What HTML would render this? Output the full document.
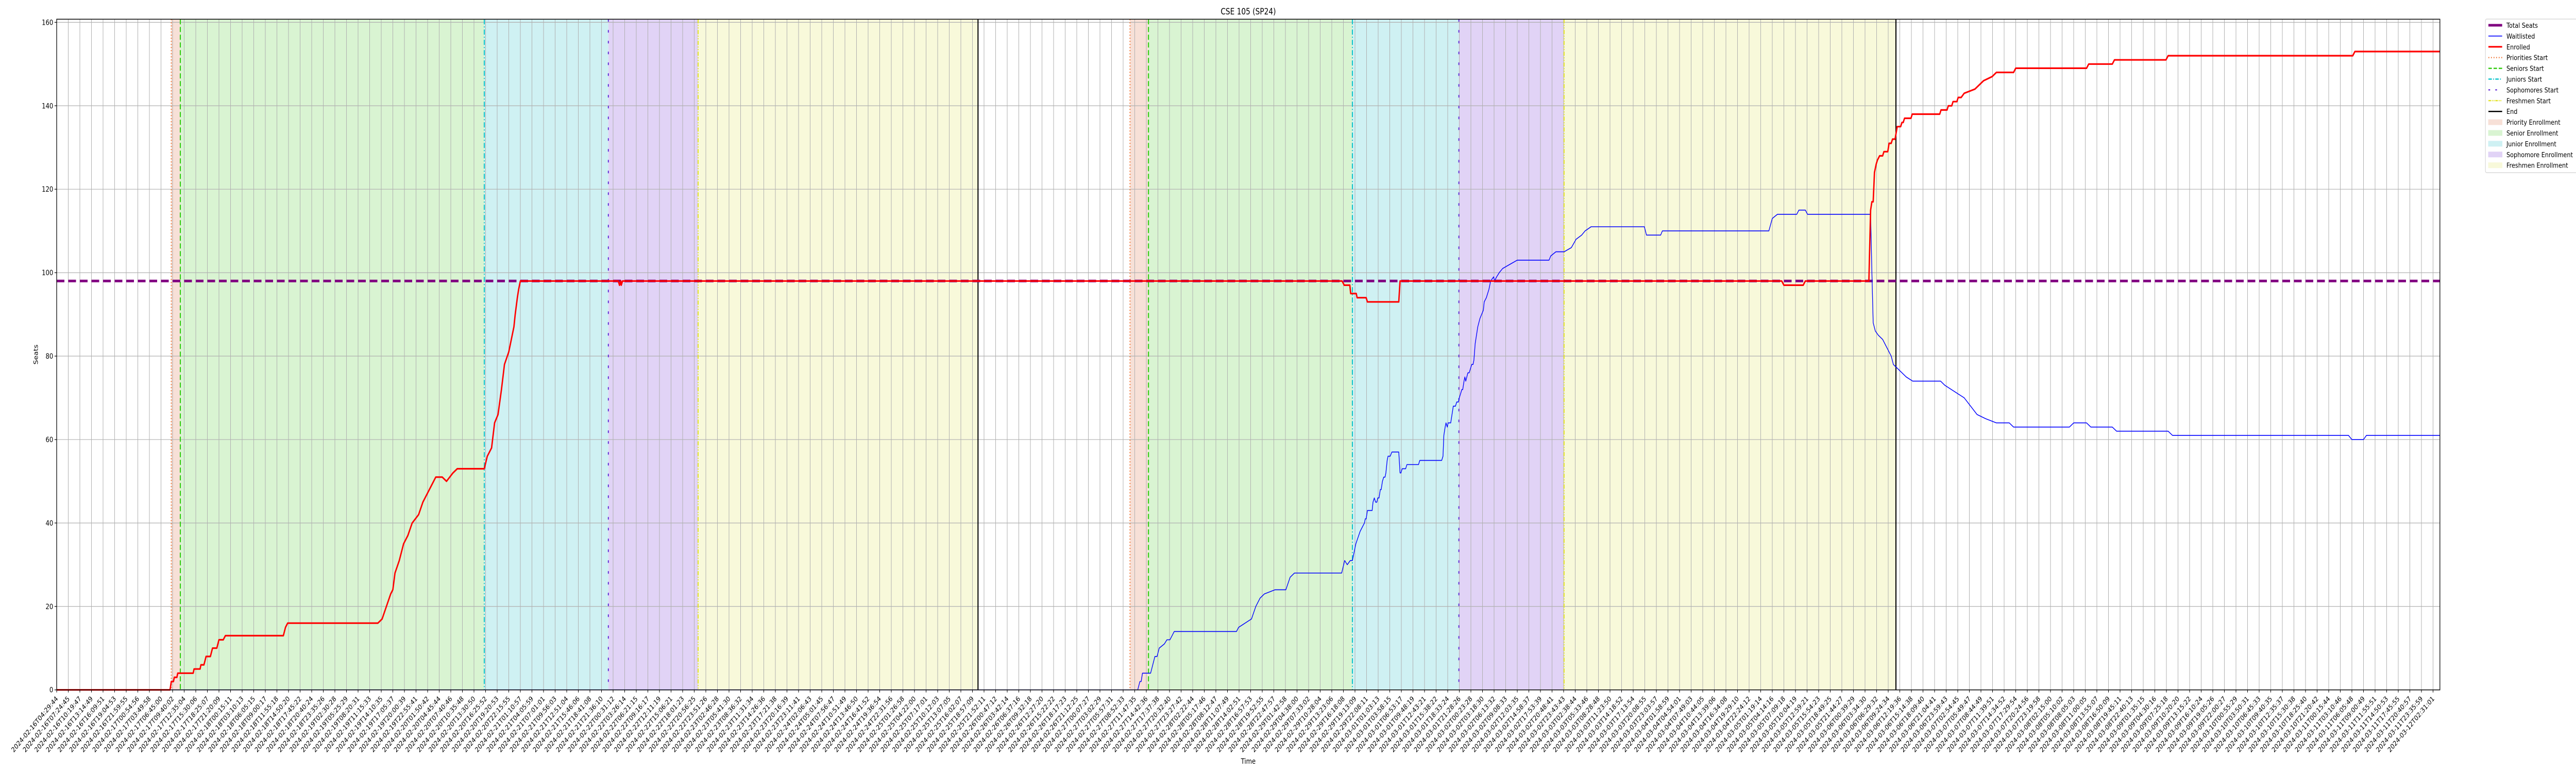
<!DOCTYPE html>
<html><head><meta charset="utf-8"><title>CSE 105 (SP24)</title>
<style>
html,body{margin:0;padding:0;background:#fff;width:100%;height:100%;overflow:hidden;}
svg{display:block;width:100vw;height:100vh;font-family:"DejaVu Sans","Liberation Sans",sans-serif;}
</style></head>
<body>
<svg id="chart" viewBox="0 0 6000 1500" preserveAspectRatio="none" xmlns="http://www.w3.org/2000/svg">
<rect width="6000" height="1500" fill="#fff"/>
<g id="bands"></g>
<g id="grid"></g>
<g id="vlines"></g>
<g id="series"></g>
<g id="axes"></g>
<g id="legend"></g>
</svg>
<script>
// ---- data ----
const totalSeats = 98;
const enrolledX = [0,52.8,53.4,54.4,54.8,56,56.4,63.6,64,66.8,67.2,68.6,69.6,71.6,72.6,74.6,75.6,77.6,78.6,105.6,106.6,107.6,149.6,151.6,153.6,155.6,156.6,157.6,159.6,161.6,163.6,165.6,168.6,170.6,172.6,174.6,176.6,179.6,181.6,184.6,186.6,199.2,200.6,202.6,204,205.6,207.2,208.6,210.6,212.2,213,213.6,214.6,215.2,216,261.6,262.2,262.8,263,263.6,598.8,599.8,602.4,602.8,605.4,605.8,610,610.6,625.2,625.8,803.6,804.6,813.6,814.6,844.2,845,845.6,846.2,846.8,847.6,848.2,849.2,850.6,851.2,853,853.6,854.6,855.2,856.4,857.4,859,859.6,860.2,860.8,863.8,864.4,877.2,877.8,880.6,881.2,882.8,883.4,885.2,885.8,887.2,888.6,893.6,897.6,901.6,903.6,911.6,912.6,945.6,946.6,957.6,958.6,982.6,983.6,1069.6,1070.6,1110.2];
const enrolledY = [0,0,2,2,3,3,4,4,5,5,6,6,8,8,10,10,12,12,13,13,15,16,16,17,20,23,24,28,31,35,37,40,42,45,47,49,51,51,50,52,53,53,56,58,64,66,72,78,81,85,87,90,94,96,98,98,97,98,97,98,98,97,97,95,95,94,94,93,93,98,98,97,97,98,98,115,117,117,124,126,127,128,128,129,129,131,131,132,132,135,135,136,136,137,137,138,138,139,139,140,140,141,141,142,142,143,144,146,147,148,148,149,149,150,150,151,151,152,152,153,153];
const waitX = [0,503.6,504.6,505.2,505.8,509.6,510.6,511.6,512.6,513.6,516,517.2,518.6,519.6,520.6,549.6,550.6,553.6,556.6,558.6,560.6,562.6,567.6,572.6,574.6,576.6,598.6,600,601.2,602.6,603.6,605.2,607.2,609.2,609.6,610,610.6,612.8,613.2,613.8,614.4,615,615.4,616,616.6,617,617.6,618.2,618.8,619.2,619.8,620.2,621.2,622,625.2,625.8,626.2,626.8,628.4,629,634.4,635,645.2,645.8,646.2,646.8,647.2,647.8,648.2,649.4,650.6,651.6,652.2,653,653.4,654.6,655,655.6,656,656.4,657.4,658,659.2,659.8,660.2,660.8,662,663,664.6,665,666,667.2,668,669.4,669.8,670.8,672,673.6,677,680.4,695.2,696,698.4,702.2,705.6,707.8,710.4,712,714.8,739.6,740.6,747.2,748,797.6,799.2,801.6,810.6,811.6,814.6,815.6,845,845.6,846.2,847.2,848.6,850.6,852.6,854.6,855.6,857.6,859.6,861.6,864.6,877.6,879.6,882.6,885.6,888.6,891.6,894.6,898.6,903.6,909.6,911.6,937.6,939.6,945.6,947.6,957.6,959.6,983.6,985.6,1067.6,1069.2,1074.6,1076,1110.2];
const waitY = [0,0,2,2,4,4,6,8,8,10,11,12,12,13,14,14,15,16,17,20,22,23,24,24,27,28,28,31,30,31,31,35,38,40,41,41,43,43,45,46,45,45,46,46,48,48,50,51,51,52,55,56,56,57,57,52,52,53,53,54,54,55,55,56,61,63,64,63,64,64,68,68,69,69,70,72,72,74,75,74,76,76,78,78,79,83,87,89,91,93,94,96,98,99,98,99,100,101,102,103,103,104,105,105,106,108,109,110,111,111,109,109,110,110,113,114,114,115,115,114,114,100,88,86,85,84,82,80,78,77,76,75,74,74,73,72,71,70,68,66,65,64,64,63,63,64,64,63,63,62,62,61,61,60,60,61,61];
const phaseStarts = [[53.4,57.6,199.2,257,298.8,429.2],[500,508.6,603.6,653.2,702.2,856.8]];
const yTicks = [0,20,40,60,80,100,120,140,160];
const tickStep = 5.4, tickCount = 206;
const firstTickTime = "2024-02-16T04:29:44", lastTickTime = "2024-03-12T02:31:01";

// ---- scales ----
const L=132, R=5683, T=37.3, B=1338.7;
const xMax=1110.2, yMax=(B-T)/8.096;
function xs(v){return L+(v/xMax)*(R-L);}
function ys(v){return B-(v/yMax)*(B-T);}
const NS="http://www.w3.org/2000/svg";
function mk(tag,attrs,parent){const e=document.createElementNS(NS,tag);for(const k in attrs)e.setAttribute(k,attrs[k]);parent.appendChild(e);return e;}

const bands=document.getElementById('bands'), grid=document.getElementById('grid'),
 vlines=document.getElementById('vlines'), series=document.getElementById('series'),
 axes=document.getElementById('axes'), legend=document.getElementById('legend');

const bandColors=['#f7e0d7','#d9f4d2','#cff1f3','#e1d3f6','#f8f9da'];
const bandNames=['priority','senior','junior','sophomore','freshmen'];
const lineStyles=[
 {c:'#f07a3c',d:'2,4',w:2.5,n:'priorities-start-line'},
 {c:'#33cc11',d:'10,5',w:2.5,n:'seniors-start-line'},
 {c:'#11c4cc',d:'10,4,2,4',w:2.5,n:'juniors-start-line'},
 {c:'#6a35d9',d:'5,16',w:2.5,n:'sophomores-start-line'},
 {c:'#e3e32a',d:'8,3,2,3,2,3',w:2.5,n:'freshmen-start-line'},
 {c:'#000',d:'',w:2.5,n:'end-line'}];

phaseStarts.forEach((p,ci)=>{
 for(let i=0;i<5;i++){
  const r=mk('rect',{x:xs(p[i]),y:T,width:xs(p[i+1])-xs(p[i]),height:B-T,fill:bandColors[i]},bands);
  
  
 }
 for(let i=0;i<6;i++){
  const s=lineStyles[i];
  const l=mk('line',{x1:xs(p[i]),x2:xs(p[i]),y1:T,y2:B,stroke:s.c,'stroke-width':s.w,'stroke-dasharray':s.d},vlines);
  
  
 }
});

// grid + ticks
const start=new Date(firstTickTime+"Z").getTime(), end=new Date(lastTickTime+"Z").getTime();
function fmt(ms){return new Date(ms).toISOString().slice(0,19);}
for(let k=0;k<tickCount;k++){
 const v=k*tickStep, x=xs(v);
 const g=mk('line',{x1:x,x2:x,y1:T,y2:B,stroke:'#b0b0b0','stroke-width':1.2},grid);
 
 
 mk('line',{x1:x,x2:x,y1:B,y2:B+5,stroke:'#000','stroke-width':1.2},axes);
 const lab=fmt(start+(end-start)*k/(tickCount-1));
 const t=mk('text',{x:x+4,y:B+18,'font-size':13.5,'text-anchor':'end',transform:`rotate(-45 ${x+4} ${B+18})`,fill:'#000'},axes);
 t.textContent=lab;
 
 
}
yTicks.forEach(v=>{
 const y=ys(v);
 const g=mk('line',{x1:L,x2:R,y1:y,y2:y,stroke:'#b0b0b0','stroke-width':1.2},grid);
 
 
 mk('line',{x1:L-5,x2:L,y1:y,y2:y,stroke:'#000','stroke-width':1.2},axes);
 const t=mk('text',{x:L-8,y:y+5,'font-size':14,'text-anchor':'end',fill:'#000'},axes);
 t.textContent=v;
 
 
});

// series
const ts=mk('line',{x1:L,x2:R,y1:ys(totalSeats),y2:ys(totalSeats),stroke:'#800080','stroke-width':5,'stroke-dasharray':'18,9'},series);


function pts(X,Y){return X.map((x,i)=>xs(x).toFixed(1)+','+ys(Y[i]).toFixed(1)).join(' ');}
const wl=mk('polyline',{points:pts(waitX,waitY),fill:'none',stroke:'#0000ff','stroke-width':1.6,'stroke-linejoin':'round'},series);


const en=mk('polyline',{points:pts(enrolledX,enrolledY),fill:'none',stroke:'#ff0000','stroke-width':3.2,'stroke-linejoin':'round'},series);



// frame + titles
const fr=mk('rect',{x:L,y:T,width:R-L,height:B-T,fill:'none',stroke:'#000','stroke-width':1.5},axes);


const ti=mk('text',{x:(L+R)/2,y:28,'font-size':16.5,'text-anchor':'middle',fill:'#000'},axes);
ti.textContent='CSE 105 (SP24)';


const xt=mk('text',{x:(L+R)/2,y:1482,'font-size':14,'text-anchor':'middle',fill:'#000'},axes);
xt.textContent='Time';


const yt=mk('text',{x:88,y:(T+B)/2,'font-size':14,'text-anchor':'middle',fill:'#000',transform:`rotate(-90 88 ${(T+B)/2})`},axes);
yt.textContent='Seats';



// legend
const lf=mk('rect',{x:5789,y:37,width:215,height:298,fill:'#fff',stroke:'#d0d0d0','stroke-width':1.2,rx:3},legend);


const entries=[
 {t:'Total Seats',k:'line',c:'#800080',w:5,d:''},
 {t:'Waitlisted',k:'line',c:'#0000ff',w:1.6,d:''},
 {t:'Enrolled',k:'line',c:'#ff0000',w:3.2,d:''},
 {t:'Priorities Start',k:'line',c:'#f07a3c',w:2.5,d:'2,4'},
 {t:'Seniors Start',k:'line',c:'#33cc11',w:2.5,d:'8,4'},
 {t:'Juniors Start',k:'line',c:'#11c4cc',w:2.5,d:'8,3,2,3'},
 {t:'Sophomores Start',k:'line',c:'#6a35d9',w:2.5,d:'4,12'},
 {t:'Freshmen Start',k:'line',c:'#e3e32a',w:2.5,d:'6,2,2,2,2,2'},
 {t:'End',k:'line',c:'#000',w:2.5,d:''},
 {t:'Priority Enrollment',k:'patch',c:bandColors[0]},
 {t:'Senior Enrollment',k:'patch',c:bandColors[1]},
 {t:'Junior Enrollment',k:'patch',c:bandColors[2]},
 {t:'Sophomore Enrollment',k:'patch',c:bandColors[3]},
 {t:'Freshmen Enrollment',k:'patch',c:bandColors[4]}];
entries.forEach((e,i)=>{
 const y=49+i*20.9;
 const g=mk('g',{},legend);
 
 
 if(e.k==='line') mk('line',{x1:5796,x2:5828,y1:y,y2:y,stroke:e.c,'stroke-width':e.w,'stroke-dasharray':e.d},g);
 else mk('rect',{x:5796,y:y-5,width:32,height:10,fill:e.c,stroke:e.c},g);
 const t=mk('text',{x:5838,y:y+5,'font-size':13.5,fill:'#000'},g);
 t.textContent=e.t;
});
</script>
</body></html>
